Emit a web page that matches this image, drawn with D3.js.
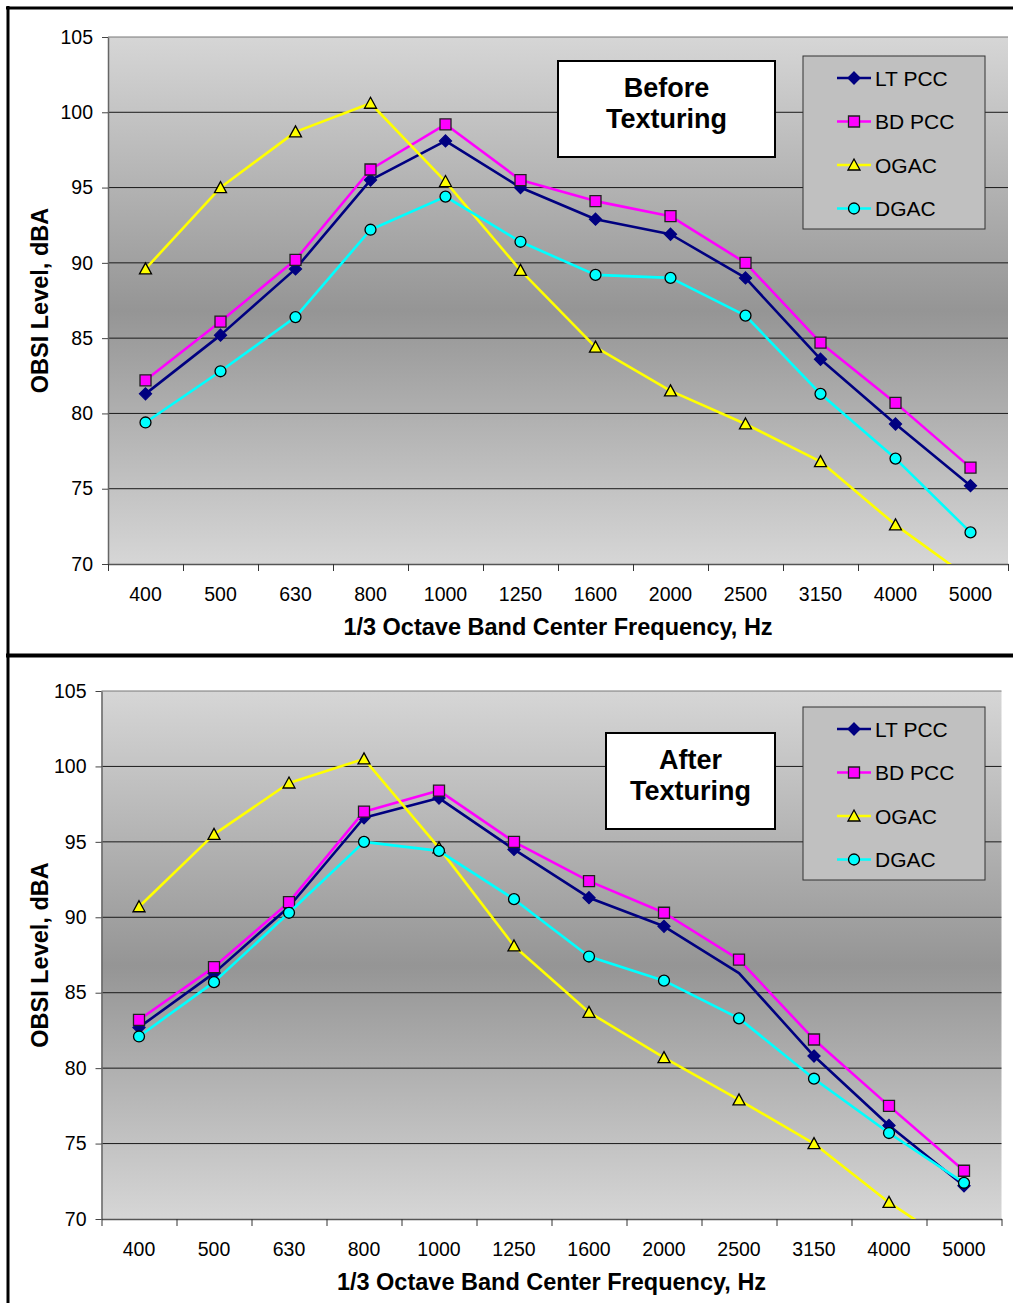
<!DOCTYPE html>
<html>
<head>
<meta charset="utf-8">
<script src="https://cdn.jsdelivr.net/npm/d3@7"></script>
<style>
  body { margin: 0; background: #fff; }
  svg text { font-family: Arial, "Liberation Sans", sans-serif; }
</style>
</head>
<body>
<script>
// data
var freqs = ["400", "500", "630", "800", "1000", "1250", "1600", "2000", "2500", "3150", "4000", "5000"];
var yTicks = [70, 75, 80, 85, 90, 95, 100, 105];
var seriesNames = ["LT PCC", "BD PCC", "OGAC", "DGAC"];

// before texturing
var beforeLT   = [81.3, 85.2, 89.6, 95.5, 98.1, 95.0, 92.9, 91.9, 89.0, 83.6, 79.3, 75.2];
var beforeBD   = [82.2, 86.1, 90.2, 96.2, 99.2, 95.5, 94.1, 93.1, 90.0, 84.7, 80.7, 76.4];
var beforeOGAC = [89.6, 95.0, 98.7, 100.6, 95.4, 89.5, 84.4, 81.5, 79.3, 76.8, 72.6, 69.0];
var beforeDGAC = [79.4, 82.8, 86.4, 92.2, 94.4, 91.4, 89.2, 89.0, 86.5, 81.3, 77.0, 72.1];

// after texturing
var afterLT   = [82.7, 86.3, 90.7, 96.6, 97.9, 94.5, 91.3, 89.4, 86.3, 80.8, 76.2, 72.2];
var afterBD   = [83.2, 86.7, 91.0, 97.0, 98.4, 95.0, 92.4, 90.3, 87.2, 81.9, 77.5, 73.2];
var afterOGAC = [90.7, 95.5, 98.9, 100.5, 94.6, 88.1, 83.7, 80.7, 77.9, 75.0, 71.1, 67.8];
var afterDGAC = [82.1, 85.7, 90.3, 95.0, 94.4, 91.2, 87.4, 85.8, 83.3, 79.3, 75.7, 72.4];

var styles = [
    {color: "#000080", marker: "diamond", fill: "#000080", stroke: "#000080"},
    {color: "#ff00ff", marker: "square", fill: "#ff00ff", stroke: "#202020"},
    {color: "#ffff00", marker: "triangle", fill: "#ffff00", stroke: "#000"},
    {color: "#00ffff", marker: "circle", fill: "#00ffff", stroke: "#000"}
];

var W = 1013, H = 1303;

var svg = d3.select("body").append("svg")
    .attr("width", W)
    .attr("height", H);

var defs = svg.append("defs");
var grad = defs.append("linearGradient")
    .attr("id", "plotGrad")
    .attr("x1", 0).attr("y1", 0).attr("x2", 0).attr("y2", 1);
grad.append("stop").attr("offset", "0%").attr("stop-color", "#d6d6d6");
grad.append("stop").attr("offset", "52%").attr("stop-color", "#959595");
grad.append("stop").attr("offset", "100%").attr("stop-color", "#d6d6d6");

function markerPath(type) {
    if (type == "diamond") return "M0,-6L6,0L0,6L-6,0Z";
    if (type == "square") return "M-5.5,-5.5H5.5V5.5H-5.5Z";
    if (type == "triangle") return "M0,-6L6,5H-6Z";
    return d3.symbol().type(d3.symbolCircle).size(Math.PI * 30)();
}

function drawChart(cfg, series) {
    var g = svg.append("g");

    var x = d3.scaleBand().domain(freqs).range([cfg.left, cfg.right]);
    var xIdx = d3.scaleLinear().domain([0, freqs.length]).range([cfg.left, cfg.right]);
    var y = d3.scaleLinear().domain([70, 105]).range([cfg.bottom, cfg.top]);

    // plot area
    g.append("rect")
        .attr("x", cfg.left).attr("y", cfg.top)
        .attr("width", cfg.right - cfg.left)
        .attr("height", cfg.bottom - cfg.top)
        .attr("fill", "url(#plotGrad)");

    // gridlines
    g.selectAll(".grid")
        .data(yTicks.slice(1))
        .enter()
        .append("line")
        .attr("x1", cfg.left).attr("x2", cfg.right)
        .attr("y1", function(d){ return y(d); })
        .attr("y2", function(d){ return y(d); })
        .attr("stroke", function(d){ return d == 105 ? "#777" : "#1a1a1a"; })
        .attr("stroke-width", 1);

    // y axis
    var yAxis = g.append("g")
        .attr("transform", "translate(" + cfg.left + ",0)")
        .call(d3.axisLeft(y).tickValues(yTicks).tickSize(6).tickPadding(9).tickSizeOuter(0));
    yAxis.select(".domain").attr("stroke", "#666").attr("stroke-width", 1.5);
    yAxis.selectAll(".tick line").attr("stroke", "#444");
    yAxis.selectAll("text").attr("font-size", "19.5px").attr("fill", "#000");

    // x axis labels
    var xAxis = g.append("g")
        .attr("transform", "translate(0," + cfg.bottom + ")")
        .call(d3.axisBottom(x).tickSize(0).tickPadding(23));
    xAxis.select(".domain").remove();
    xAxis.selectAll("text").attr("font-size", "19.5px").attr("fill", "#000");

    // x axis ticks at the category boundaries
    var xTicks = g.append("g")
        .attr("transform", "translate(0," + cfg.bottom + ")")
        .call(d3.axisBottom(xIdx).tickValues(d3.range(freqs.length + 1)).tickSize(7).tickFormat("").tickSizeOuter(0));
    xTicks.select(".domain").attr("stroke", "#555").attr("stroke-width", 1.5);
    xTicks.selectAll(".tick line").attr("stroke", "#333");

    // clip for the lines
    var clipId = "clip" + cfg.id;
    defs.append("clipPath").attr("id", clipId)
        .append("rect")
        .attr("x", cfg.left).attr("y", cfg.top)
        .attr("width", cfg.right - cfg.left)
        .attr("height", cfg.bottom - cfg.top);

    var line = d3.line()
        .x(function(d, i){ return x(freqs[i]) + x.bandwidth() / 2; })
        .y(function(d){ return y(d); });

    var plot = g.append("g").attr("clip-path", "url(#" + clipId + ")");

    series.forEach(function(vals, k) {
        var st = styles[k];
        plot.append("path")
            .datum(vals)
            .attr("d", line)
            .attr("fill", "none")
            .attr("stroke", st.color)
            .attr("stroke-width", 2.6)
            .attr("stroke-linejoin", "round");

        plot.selectAll(".m" + k)
            .data(vals.filter(function(v){ return v >= 70; }).map(function(v){ return {v: v, i: vals.indexOf(v)}; }))
            .enter()
            .append("path")
            .attr("d", markerPath(st.marker))
            .attr("transform", function(d){
                return "translate(" + (x(freqs[d.i]) + x.bandwidth() / 2) + "," + y(d.v) + ")";
            })
            .attr("fill", st.fill)
            .attr("stroke", st.stroke)
            .attr("stroke-width", 1.3);
    });

    // axis titles
    g.append("text")
        .attr("transform", "translate(" + 48 + "," + ((cfg.top + cfg.bottom) / 2) + ") rotate(-90)")
        .attr("text-anchor", "middle")
        .attr("font-size", "23.5px")
        .attr("font-weight", "bold")
        .text("OBSI Level, dBA");

    g.append("text")
        .attr("x", (cfg.left + cfg.right) / 2)
        .attr("y", cfg.bottom + 71)
        .attr("text-anchor", "middle")
        .attr("font-size", "23.5px")
        .attr("font-weight", "bold")
        .text("1/3 Octave Band Center Frequency, Hz");

    // title box
    var tb = cfg.titleBox;
    g.append("rect")
        .attr("x", tb[0]).attr("y", tb[1])
        .attr("width", tb[2]).attr("height", tb[3])
        .attr("fill", "#fff")
        .attr("stroke", "#000")
        .attr("stroke-width", 2);
    g.selectAll(".ttl")
        .data(cfg.title)
        .enter()
        .append("text")
        .attr("x", tb[0] + tb[2] / 2)
        .attr("y", function(d, i){ return tb[1] + 36 + i * 31; })
        .attr("text-anchor", "middle")
        .attr("font-size", "27px")
        .attr("font-weight", "bold")
        .text(function(d){ return d; });

    // legend
    var lb = cfg.legendBox;
    g.append("rect")
        .attr("x", lb[0]).attr("y", lb[1])
        .attr("width", lb[2]).attr("height", lb[3])
        .attr("fill", "#c0c0c0")
        .attr("stroke", "#333")
        .attr("stroke-width", 1);

    var items = g.selectAll(".leg")
        .data(seriesNames)
        .enter()
        .append("g")
        .attr("transform", function(d, i){ return "translate(" + (lb[0] + 51) + "," + (lb[1] + 22 + i * 43.5) + ")"; });
    items.append("line")
        .attr("x1", -17).attr("x2", 17)
        .attr("stroke", function(d, i){ return styles[i].color; })
        .attr("stroke-width", 2.6);
    items.append("path")
        .attr("d", function(d, i){ return markerPath(styles[i].marker); })
        .attr("fill", function(d, i){ return styles[i].fill; })
        .attr("stroke", function(d, i){ return styles[i].stroke; })
        .attr("stroke-width", 1.3);
    items.append("text")
        .attr("x", 21)
        .attr("y", 7.5)
        .attr("font-size", "21px")
        .text(function(d){ return d; });
}

drawChart({
    id: 1, left: 108, right: 1008, top: 37, bottom: 564,
    title: ["Before", "Texturing"],
    titleBox: [558, 61, 217, 96],
    legendBox: [803, 56, 182, 173]
}, [beforeLT, beforeBD, beforeOGAC, beforeDGAC]);

drawChart({
    id: 2, left: 101.5, right: 1001.5, top: 691, bottom: 1219,
    title: ["After", "Texturing"],
    titleBox: [606, 733, 169, 96],
    legendBox: [803, 707, 182, 173]
}, [afterLT, afterBD, afterOGAC, afterDGAC]);

// page frame
svg.append("line").attr("x1", 6).attr("x2", W).attr("y1", 8).attr("y2", 8)
    .attr("stroke", "#000").attr("stroke-width", 3);
svg.append("line").attr("x1", 8).attr("x2", 8).attr("y1", 6).attr("y2", H)
    .attr("stroke", "#000").attr("stroke-width", 3);
svg.append("line").attr("x1", 6).attr("x2", W).attr("y1", 655.5).attr("y2", 655.5)
    .attr("stroke", "#000").attr("stroke-width", 4);
</script>
</body>
</html>
